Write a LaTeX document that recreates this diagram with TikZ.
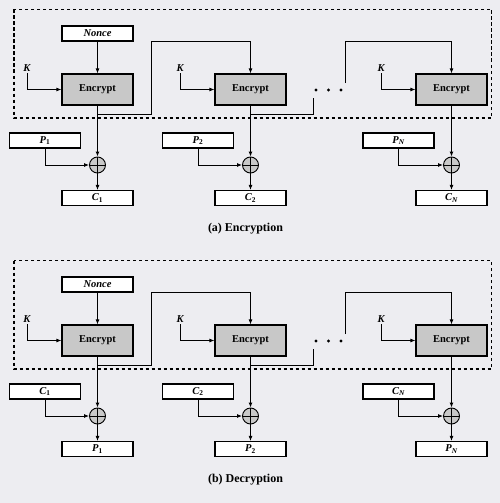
\documentclass[tikz,border=0pt]{standalone}
\usepackage{fontspec}
\setmainfont{Liberation Serif}
\usetikzlibrary{arrows.meta}

\definecolor{paper}{RGB}{237,237,241}
\definecolor{blockgray}{RGB}{200,200,200}

\begin{document}
\begin{tikzpicture}[x=1pt,y=-1pt,
  font=\fontsize{10.5}{12}\selectfont\bfseries,
  arr/.style={line width=0.9pt,-{Latex[length=5pt,width=4pt]}},
  wire/.style={line width=0.9pt},
  valbox/.style={draw,line width=1.2pt,fill=white,minimum width=71pt,minimum height=15pt,inner sep=0pt,font=\fontsize{10.5}{12}\selectfont\bfseries\itshape},
  encbox/.style={draw,line width=1.2pt,fill=blockgray,minimum width=71pt,minimum height=31pt,inner sep=0pt},
  keylabel/.style={inner sep=1pt,font=\fontsize{10.5}{12}\selectfont\bfseries\itshape},
  xorgate/.style={circle,draw,line width=0.9pt,fill=blockgray,minimum size=16pt,inner sep=0pt,
    path picture={\draw[line width=0.9pt] (path picture bounding box.north) -- (path picture bounding box.south)
      (path picture bounding box.west) -- (path picture bounding box.east);}},
  dotmark/.style={circle,fill=black,minimum size=3.2pt,inner sep=0pt},
  dashbox/.style={line width=1.2pt,dash pattern=on 3.5pt off 2.5pt}]

\fill[paper] (0,0) rectangle (500,503);
\useasboundingbox (0,0) rectangle (500,503);

% (a) encryption
\draw[dashbox] (14,9.5) rectangle (491.5,118);

\node[valbox] (nonceA) at (97.5,33.5) {Nonce};
\node[encbox] (encA1) at (97.5,89.5) {Encrypt};
\node[encbox] (encA2) at (250.5,89.5) {Encrypt};
\node[encbox] (encAN) at (451.5,89.5) {Encrypt};

\node[keylabel,anchor=south] (kA1) at (27,73) {K};
\node[keylabel,anchor=south] (kA2) at (180,73) {K};
\node[keylabel,anchor=south] (kAN) at (381,73) {K};

\node[xorgate] (xorA1) at (97.5,165) {};
\node[xorgate] (xorA2) at (250.5,165) {};
\node[xorgate] (xorAN) at (451.5,165) {};

\node[valbox] (pA1) at (45,140.5) {P\textsubscript{\upshape 1}};
\node[valbox] (pA2) at (198,140.5) {P\textsubscript{\upshape 2}};
\node[valbox] (pAN) at (398.5,140.5) {P\textsubscript{N}};

\node[valbox] (cA1) at (97.5,198) {C\textsubscript{\upshape 1}};
\node[valbox] (cA2) at (250.5,198) {C\textsubscript{\upshape 2}};
\node[valbox] (cAN) at (451.5,198) {C\textsubscript{N}};

\node[dotmark] (dotA1) at (316,90) {};
\node[dotmark] (dotA2) at (328.5,90) {};
\node[dotmark] (dotA3) at (341,90) {};

\coordinate (tapA1) at (97.5,114);
\coordinate (bendA1) at (151,41);
\coordinate (tapA2) at (250.5,114);
\coordinate (stubA) at (313,98);
\coordinate (resA) at (345.7,83);
\coordinate (topA) at (345.7,41);

\draw[arr] (nonceA) -- (encA1);
\draw[arr] (kA1.south) |- (encA1.west);
\draw[arr] (kA2.south) |- (encA2.west);
\draw[arr] (kAN.south) |- (encAN.west);

\draw[arr] (encA1) -- (xorA1);
\draw[arr] (encA2) -- (xorA2);
\draw[arr] (encAN) -- (xorAN);

\draw[arr] (tapA1) -| (bendA1) -| (encA2.north);
\draw[wire] (tapA2) -| (stubA);
\draw[arr] (resA) -- (topA) -| (encAN.north);

\draw[arr] (pA1.south) |- (xorA1.west);
\draw[arr] (pA2.south) |- (xorA2.west);
\draw[arr] (pAN.south) |- (xorAN.west);

\draw[arr] (xorA1) -- (cA1);
\draw[arr] (xorA2) -- (cA2);
\draw[arr] (xorAN) -- (cAN);

\node[font=\fontsize{12}{14}\selectfont\bfseries] (capA) at (245.5,229) {(a) Encryption};

% (b) decryption
\draw[dashbox] (14,260.5) rectangle (491.5,369);

\node[valbox] (nonceB) at (97.5,284.5) {Nonce};
\node[encbox] (encB1) at (97.5,340.5) {Encrypt};
\node[encbox] (encB2) at (250.5,340.5) {Encrypt};
\node[encbox] (encBN) at (451.5,340.5) {Encrypt};

\node[keylabel,anchor=south] (kB1) at (27,324) {K};
\node[keylabel,anchor=south] (kB2) at (180,324) {K};
\node[keylabel,anchor=south] (kBN) at (381,324) {K};

\node[xorgate] (xorB1) at (97.5,416) {};
\node[xorgate] (xorB2) at (250.5,416) {};
\node[xorgate] (xorBN) at (451.5,416) {};

\node[valbox] (cB1) at (45,391.5) {C\textsubscript{\upshape 1}};
\node[valbox] (cB2) at (198,391.5) {C\textsubscript{\upshape 2}};
\node[valbox] (cBN) at (398.5,391.5) {C\textsubscript{N}};

\node[valbox] (pB1) at (97.5,449) {P\textsubscript{\upshape 1}};
\node[valbox] (pB2) at (250.5,449) {P\textsubscript{\upshape 2}};
\node[valbox] (pBN) at (451.5,449) {P\textsubscript{N}};

\node[dotmark] (dotB1) at (316,341) {};
\node[dotmark] (dotB2) at (328.5,341) {};
\node[dotmark] (dotB3) at (341,341) {};

\coordinate (tapB1) at (97.5,365);
\coordinate (bendB1) at (151,292);
\coordinate (tapB2) at (250.5,365);
\coordinate (stubB) at (313,349);
\coordinate (resB) at (345.7,334);
\coordinate (topB) at (345.7,292);

\draw[arr] (nonceB) -- (encB1);
\draw[arr] (kB1.south) |- (encB1.west);
\draw[arr] (kB2.south) |- (encB2.west);
\draw[arr] (kBN.south) |- (encBN.west);

\draw[arr] (encB1) -- (xorB1);
\draw[arr] (encB2) -- (xorB2);
\draw[arr] (encBN) -- (xorBN);

\draw[arr] (tapB1) -| (bendB1) -| (encB2.north);
\draw[wire] (tapB2) -| (stubB);
\draw[arr] (resB) -- (topB) -| (encBN.north);

\draw[arr] (cB1.south) |- (xorB1.west);
\draw[arr] (cB2.south) |- (xorB2.west);
\draw[arr] (cBN.south) |- (xorBN.west);

\draw[arr] (xorB1) -- (pB1);
\draw[arr] (xorB2) -- (pB2);
\draw[arr] (xorBN) -- (pBN);

\node[font=\fontsize{12}{14}\selectfont\bfseries] (capB) at (245.5,480) {(b) Decryption};

\end{tikzpicture}
\end{document}
